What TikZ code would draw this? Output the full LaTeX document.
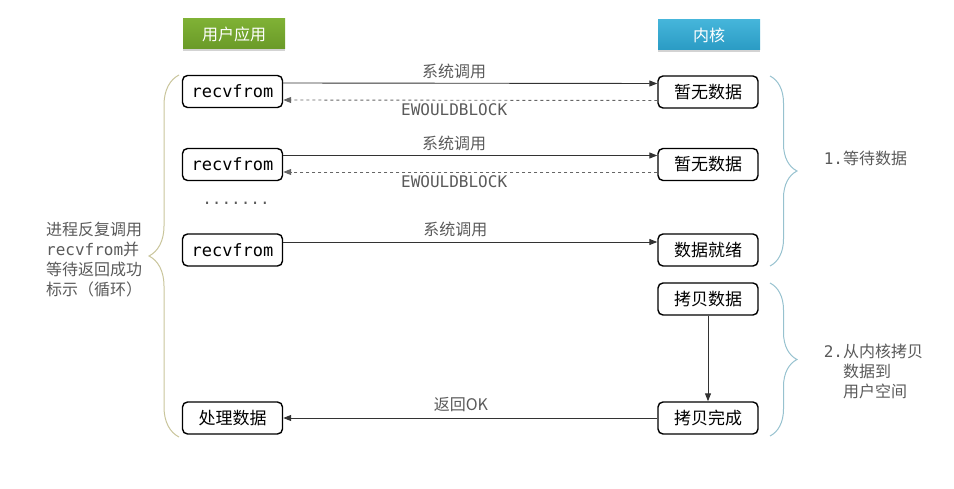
\documentclass[tikz,border=0pt]{standalone}
\usepackage{fontspec}
\setmainfont{Noto Sans CJK SC}
\setmonofont{DejaVu Sans Mono}
\usetikzlibrary{arrows.meta,shadows,decorations.pathreplacing}

\definecolor{labelgray}{HTML}{5A5A5A}
\definecolor{usergreen}{HTML}{7FB135}
\definecolor{usergreendark}{HTML}{6A9A28}
\definecolor{kernelblue}{HTML}{45B5DA}
\definecolor{kernelbluedark}{HTML}{2A9BC4}
\definecolor{leftbrace}{HTML}{C9C59B}
\definecolor{rightbrace}{HTML}{97C2CF}

\tikzset{
    callbox/.style={draw, line width=1.4pt, rounded corners=5pt, minimum width=100pt,
        minimum height=32pt, inner sep=0pt, font=\fontsize{17}{20}\selectfont},
    header/.style={minimum width=102pt, minimum height=30pt, inner sep=0pt, text=white,
        font=\fontsize{16}{19}\selectfont,
        drop shadow={opacity=0.35, shadow xshift=0pt, shadow yshift=-2.5pt}},
    msg/.style={line width=0.9pt, draw=black!80, -{Triangle[length=8pt,width=6pt]}},
    msgback/.style={msg, dashed, draw=black!60},
    msglabel/.style={text=labelgray, font=\fontsize{16}{19}\selectfont},
    note/.style={text=labelgray, align=left, font=\fontsize{16}{20}\selectfont},
    bigbrace/.style={decorate, line width=1pt, decoration={brace, amplitude=#1}}
}

\begin{document}
\begin{tikzpicture}[x=1pt, y=-1pt]
    \useasboundingbox (0,0) rectangle (954,489);

    % Column headers
    \node[header, top color=usergreen, bottom color=usergreendark] (user) at (234,34) {用户应用};
    \node[header, top color=kernelblue, bottom color=kernelbluedark] (kernel) at (709,35) {内核};

    % User side boxes
    \node[callbox] (recv1) at (232.5,91.5) {\ttfamily recvfrom};
    \node[callbox] (recv2) at (232.5,164.5) {\ttfamily recvfrom};
    \node[callbox] (recv3) at (232.5,250) {\ttfamily recvfrom};
    \node[callbox] (handle) at (232.5,418) {处理数据};

    % Kernel side boxes
    \node[callbox] (nodata1) at (708,92) {暂无数据};
    \node[callbox] (nodata2) at (708,164.5) {暂无数据};
    \node[callbox] (ready) at (708,250) {数据就绪};
    \node[callbox] (copy) at (708,299) {拷贝数据};
    \node[callbox] (done) at (708,418) {拷贝完成};

    % First call, no data yet
    \draw[msg] ([yshift=8.5pt]recv1.east) -- ([yshift=8.5pt]nodata1.west)
        node[msglabel, pos=0.457, above=1pt] {系统调用};
    \draw[msgback] ([yshift=-8.5pt]nodata1.west) -- ([yshift=-8.5pt]recv1.east)
        node[msglabel, pos=0.543, below=0pt] {\ttfamily EWOULDBLOCK};

    % Second call, still no data
    \draw[msg] ([yshift=9pt]recv2.east) -- ([yshift=9pt]nodata2.west)
        node[msglabel, pos=0.457, above=1pt] {系统调用};
    \draw[msgback] ([yshift=-7.5pt]nodata2.west) -- ([yshift=-7.5pt]recv2.east)
        node[msglabel, pos=0.543, below=0pt] {\ttfamily EWOULDBLOCK};

    % More calls in between
    \node[msglabel] (dots) at (236,203) {\ttfamily .......};

    % Last call, data is ready
    \draw[msg] ([yshift=8pt]recv3.east) -- ([yshift=8pt]ready.west)
        node[msglabel, pos=0.46, above=1pt] {系统调用};

    % Copy into user space and return
    \draw[msg] (copy.south) -- (done.north);
    \draw[msg] (done.west) -- (handle.east)
        node[msglabel, pos=0.525, above=2pt] {返回OK};

    % Left brace with its note
    \draw[leftbrace, bigbrace=30pt] (179,437) -- (179,75)
        node[midway, left=33pt, yshift=-4pt, note] (loopnote)
        {进程反复调用\\\texttt{recvfrom}并\\等待返回成功\\标示（循环）};

    % Right braces with the two phases
    \draw[rightbrace, bigbrace=27pt] (770,76) -- (770,266)
        node[midway, right=50pt, yshift=13pt, note] (phase1) {\texttt{1.}等待数据};
    \draw[rightbrace, bigbrace=27pt] (770,283) -- (770,436)
        node[midway, right=50pt, yshift=-12pt, note] (phase2)
        {\texttt{2.}从内核拷贝\\\phantom{\texttt{2.}}数据到\\\phantom{\texttt{2.}}用户空间};
\end{tikzpicture}
\end{document}
